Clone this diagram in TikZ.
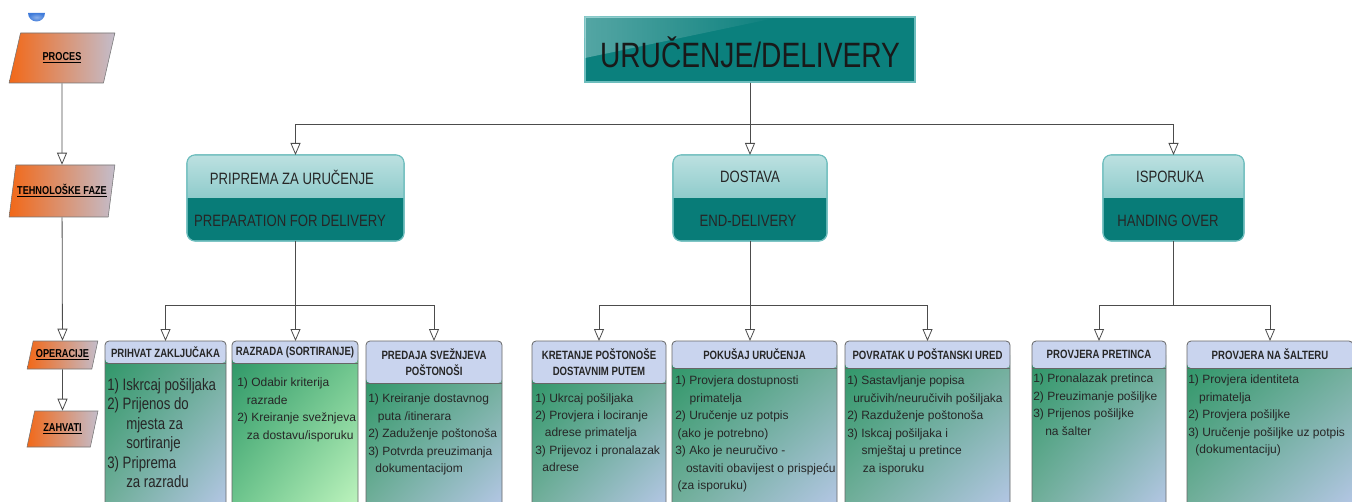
\documentclass[tikz,border=0pt]{standalone}
\usepackage{fontspec}
\setmainfont{Liberation Sans}[FakeStretch=0.8]
\newfontfamily\bodyfont{Liberation Sans}
\usetikzlibrary{arrows.meta,shapes.geometric,fadings,shadings}

\definecolor{rootteal}{HTML}{0B807D}
\definecolor{phasedark}{HTML}{087C78}
\definecolor{phasetopA}{HTML}{BCE1E1}
\definecolor{phasetopB}{HTML}{8FCBCB}
\definecolor{phaseline}{HTML}{6DBDBD}
\definecolor{headblue}{HTML}{C9D4EE}
\definecolor{bodygreen}{HTML}{2C9566}
\definecolor{bodymid}{HTML}{6FAE98}
\definecolor{bodyblue}{HTML}{B3C6E4}
\definecolor{sortlight}{HTML}{BDF3BD}
\definecolor{sortmid}{HTML}{6CC48C}
\definecolor{procorange}{HTML}{F26818}
\definecolor{procgray}{HTML}{C3BDCB}
\definecolor{dotblue}{HTML}{3F7BDA}

\begin{document}
\begin{tikzpicture}[x=0.75pt,y=0.75pt,yscale=-1,xscale=1,
    line/.style={draw=black!70, line width=0.6pt},
    arr/.style={line, -{Triangle[open,width=7.5pt,length=9pt]}},
    lvl/.style={trapezium, trapezium left angle=67, trapezium right angle=113,
        trapezium stretches=true, draw=black!55, line width=0.4pt,
        left color=procorange, right color=procgray, inner sep=1pt,
        font=\bfseries\fontsize{8.6}{10}\selectfont},
    rootbox/.style={draw=phaseline, fill=rootteal, line width=0.8pt,
        minimum width=247.5pt, minimum height=48.75pt,
        font=\fontsize{26.4}{30}\selectfont, text=black!90},
    phase/.style={draw=phaseline, fill=phasedark, rounded corners=6pt,
        line width=0.8pt, outer sep=0pt, minimum height=64.5pt},
    phasetxt/.style={inner sep=0pt, font=\fontsize{12.3}{14}\selectfont, text=black!85},
    ophead/.style={fill=headblue, rounded corners=3pt, inner sep=1pt, outer sep=0pt,
        anchor=north, align=center, text=black!85,
        font=\bfseries\fontsize{9}{12}\selectfont},
    opline/.style={draw=black!60, line width=0.6pt, rounded corners=3pt},
    opbody/.style={upper left=bodygreen, lower right=bodyblue,
        upper right=bodymid, lower left=bodymid},
    optext/.style={anchor=north west, inner sep=0pt, align=left, text=black!85,
        font=\bodyfont\fontsize{9}{13.1}\selectfont}
]
    \useasboundingbox (0,0) rectangle (1352,502);
    \clip (0,0) rectangle (1352,502);

    %Shape: blue dot
    \shade[inner color=dotblue!60!white, outer color=dotblue] (28,13) arc[start angle=180, end angle=0, radius=8.5] -- cycle;

    % Level nodes (left column)
    \node[lvl, minimum width=79.5pt, minimum height=37.5pt] (proces) at (62,58) {\underline{PROCES}};
    \node[lvl, minimum width=79.5pt, minimum height=39pt] (faze) at (62,191) {\underline{TEHNOLOŠKE FAZE}};
    \node[lvl, minimum width=53.25pt, minimum height=21pt] (operacije) at (62.5,355) {\underline{OPERACIJE}};
    \node[lvl, minimum width=53.25pt, minimum height=27pt] (zahvati) at (62.5,429) {\underline{ZAHVATI}};
    \draw[arr] (proces) -- (faze);
    \draw[arr] (faze) -- (operacije);
    \draw[arr] (operacije) -- (zahvati);

    % Root
    \node[rootbox] (root) at (750,49.5) {};
    \fill[white, opacity=0.3, path fading=east] (root.north west) -- (780,17) -- (585,58) -- cycle;
    \node[inner sep=0pt, font=\fontsize{26.4}{30}\selectfont, text=black!90] (root-t) at (750,52) {URUČENJE/DELIVERY};

    % Phases
    \node[phase, minimum width=162.75pt] (prep) at (295.5,198) {};
    \begin{scope}
        \clip[rounded corners=6pt] (prep.north west) rectangle (prep.south east);
        \shade[top color=phasetopA, bottom color=phasetopB] (prep.north west) rectangle (prep.east);
    \end{scope}
    \draw[phaseline, line width=0.8pt, rounded corners=6pt] (prep.north west) rectangle (prep.south east);
    \node[phasetxt] (prep-t) at (292,177) {PRIPREMA ZA URUČENJE};
    \node[phasetxt] (prep-b) at (290,221) {PREPARATION FOR DELIVERY};

    \node[phase, minimum width=115.5pt] (dost) at (750,198) {};
    \begin{scope}
        \clip[rounded corners=6pt] (dost.north west) rectangle (dost.south east);
        \shade[top color=phasetopA, bottom color=phasetopB] (dost.north west) rectangle (dost.east);
    \end{scope}
    \draw[phaseline, line width=0.8pt, rounded corners=6pt] (dost.north west) rectangle (dost.south east);
    \node[phasetxt] (dost-t) at (750,177) {DOSTAVA};
    \node[phasetxt] (dost-b) at (748,221) {END-DELIVERY};

    \node[phase, minimum width=105.75pt] (isp) at (1173.5,198) {};
    \begin{scope}
        \clip[rounded corners=6pt] (isp.north west) rectangle (isp.south east);
        \shade[top color=phasetopA, bottom color=phasetopB] (isp.north west) rectangle (isp.east);
    \end{scope}
    \draw[phaseline, line width=0.8pt, rounded corners=6pt] (isp.north west) rectangle (isp.south east);
    \node[phasetxt] (isp-t) at (1170,177) {ISPORUKA};
    \node[phasetxt] (isp-b) at (1168,221) {HANDING OVER};

    \draw[arr] (root.south) -- ++(0,42) -| (prep.north);
    \draw[arr] (root.south) -- (dost.north);
    \draw[arr] (root.south) -- ++(0,42) -| (isp.north);

    % Operations: PRIPREMA
    \shade[opbody] (105,352) rectangle (226,503);
    \node[ophead, minimum width=90.75pt, minimum height=16.5pt] (prihvat) at (165.5,341) {PRIHVAT ZAKLJUČAKA};
    \draw[opline] (105,520) -- (prihvat.north west) -- (prihvat.north east) -- (226,520);
    \draw[opline] (prihvat.south west) -- (prihvat.south east);
    \node[optext, font=\fontsize{12.4}{14.6}\selectfont] (prihvat-t) at (107,378) {1) Iskrcaj pošiljaka\\2) Prijenos do\\\hspace*{1.15em}mjesta za\\\hspace*{1.15em}sortiranje\\3) Priprema\\\hspace*{1.15em}za razradu};

    \shade[upper left=bodygreen, lower right=sortlight, upper right=sortmid, lower left=sortmid] (232,352) rectangle (358,503);
    \node[ophead, minimum width=94.5pt, minimum height=16.5pt] (razrada) at (295,341) {RAZRADA (SORTIRANJE)};
    \draw[opline] (232,520) -- (razrada.north west) -- (razrada.north east) -- (358,520);
    \draw[opline] (razrada.south west) -- (razrada.south east);
    \node[optext] (razrada-t) at (237,378) {1) Odabir kriterija\\\hspace*{0.8em}razrade\\2) Kreiranje svežnjeva\\\hspace*{0.8em}za dostavu/isporuku};

    \shade[opbody] (366,370) rectangle (502,503);
    \node[ophead, minimum width=102pt, minimum height=31.5pt] (predaja) at (434,341) {PREDAJA SVEŽNJEVA\\POŠTONOŠI};
    \draw[opline] (366,520) -- (predaja.north west) -- (predaja.north east) -- (502,520);
    \draw[opline] (predaja.south west) -- (predaja.south east);
    \node[optext] (predaja-t) at (368,394) {1) Kreiranje dostavnog\\\hspace*{0.8em}puta /itinerara\\2) Zaduženje poštonoša\\3) Potvrda preuzimanja\\\hspace*{0.6em}dokumentacijom};

    % Operations: DOSTAVA
    \shade[opbody] (532,370) rectangle (666,503);
    \node[ophead, minimum width=100.5pt, minimum height=31.5pt] (kretanje) at (599,341) {KRETANJE POŠTONOŠE\\DOSTAVNIM PUTEM};
    \draw[opline] (532,520) -- (kretanje.north west) -- (kretanje.north east) -- (666,520);
    \draw[opline] (kretanje.south west) -- (kretanje.south east);
    \node[optext] (kretanje-t) at (535,393) {1) Ukrcaj pošiljaka\\2) Provjera i lociranje\\\hspace*{0.8em}adrese primatelja\\3) Prijevoz i pronalazak\\\hspace*{0.6em}adrese};

    \shade[opbody] (672,355) rectangle (837,503);
    \node[ophead, minimum width=123.75pt, minimum height=20.25pt] (pokusaj) at (754.5,341) {POKUŠAJ URUČENJA};
    \draw[opline] (672,520) -- (pokusaj.north west) -- (pokusaj.north east) -- (837,520);
    \draw[opline] (pokusaj.south west) -- (pokusaj.south east);
    \node[optext] (pokusaj-t) at (675,376) {1) Provjera dostupnosti\\\hspace*{1.2em}primatelja\\2) Uručenje uz potpis\\\hspace*{0.2em}(ako je potrebno)\\3) Ako je neuručivo -\\\hspace*{0.9em}ostaviti obavijest o prispjeću\\\hspace*{0.2em}(za isporuku)};

    \shade[opbody] (845,355) rectangle (1010,503);
    \node[ophead, minimum width=123.75pt, minimum height=20.25pt] (povratak) at (927.5,341) {POVRATAK U POŠTANSKI URED};
    \draw[opline] (845,520) -- (povratak.north west) -- (povratak.north east) -- (1010,520);
    \draw[opline] (povratak.south west) -- (povratak.south east);
    \node[optext] (povratak-t) at (847,376) {1) Sastavljanje popisa\\\hspace*{0.5em}uručivih/neuručivih pošiljaka\\2) Razduženje poštonoša\\3) Iskcaj pošiljaka i\\\hspace*{1.2em}smještaj u pretince\\\hspace*{1.3em}za isporuku};

    % Operations: ISPORUKA
    \shade[opbody] (1032,355) rectangle (1166,503);
    \node[ophead, minimum width=100.5pt, minimum height=20.25pt] (pretinac) at (1099,341) {PROVJERA PRETINCA};
    \draw[opline] (1032,520) -- (pretinac.north west) -- (pretinac.north east) -- (1166,520);
    \draw[opline] (pretinac.south west) -- (pretinac.south east);
    \node[optext] (pretinac-t) at (1033,374) {1) Pronalazak pretinca\\2) Preuzimanje pošiljke\\3) Prijenos pošiljke\\\hspace*{1em}na šalter};

    \shade[opbody] (1187,355) rectangle (1353,503);
    \node[ophead, minimum width=124.5pt, minimum height=20.25pt] (salter) at (1270,341) {PROVJERA NA ŠALTERU};
    \draw[opline] (1187,520) -- (salter.north west) -- (salter.north east) -- (1353,520);
    \draw[opline] (salter.south west) -- (salter.south east);
    \node[optext] (salter-t) at (1188,375) {1) Provjera identiteta\\\hspace*{0.9em}primatelja\\2) Provjera pošiljke\\3) Uručenje pošiljke uz potpis\\\hspace*{0.6em}(dokumentaciju)};

    % Connectors to operations
    \draw[arr] (prep.south) -- ++(0,64) -| (prihvat.north);
    \draw[arr] (prep.south) -- (prep.south |- razrada.north);
    \draw[arr] (prep.south) -- ++(0,64) -| (predaja.north);
    \draw[arr] (dost.south) -- ++(0,64) -| (kretanje.north);
    \draw[arr] (dost.south) -- (dost.south |- pokusaj.north);
    \draw[arr] (dost.south) -- ++(0,64) -| (povratak.north);
    \draw[arr] (isp.south) -- ++(0,64) -| (pretinac.north);
    \draw[arr] (isp.south) -- ++(0,64) -| (salter.north);

\end{tikzpicture}
\end{document}
